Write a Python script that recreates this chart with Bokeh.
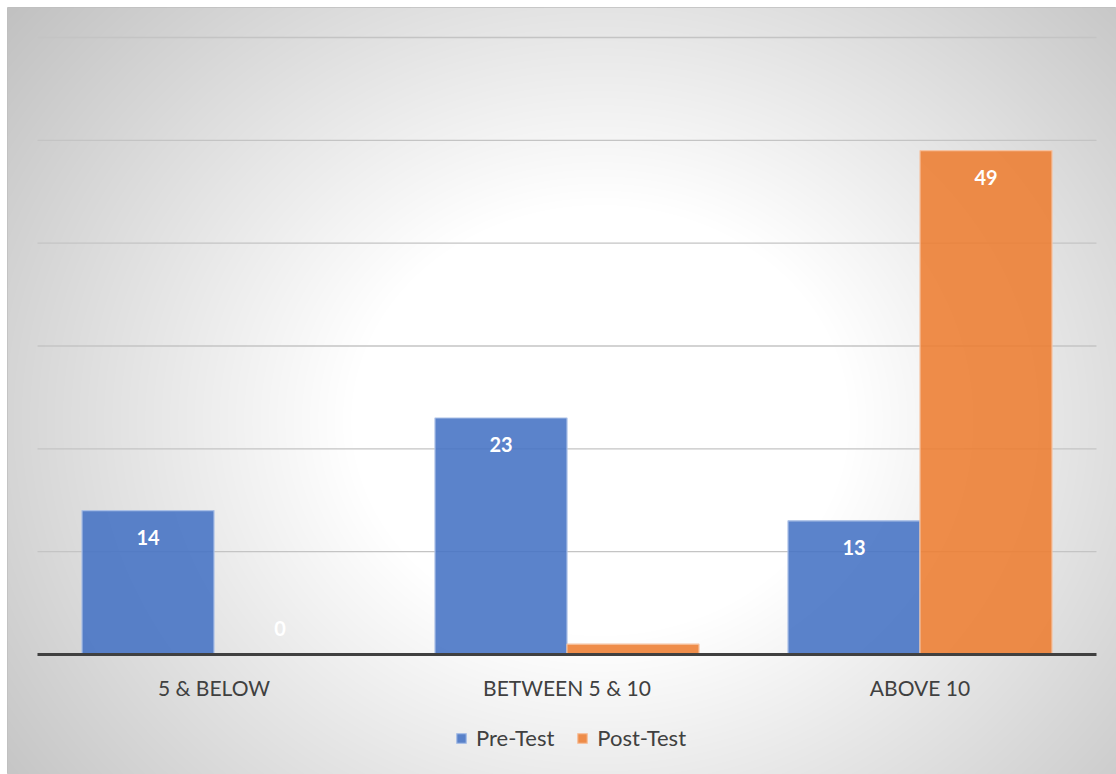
import numpy as np
from bokeh.plotting import figure
from bokeh.models import Range1d, LinearAxis, FixedTicker, Legend, LegendItem, ColumnDataSource
from bokeh.core.properties import value
from bokeh.embed import file_html
from bokeh.resources import INLINE

# ---- data ----
categories = ["5 & BELOW", "BETWEEN 5 & 10", "ABOVE 10"]
pre_test = [14, 23, 13]
post_test = [0, 1, 49]
series_names = ["Pre-Test", "Post-Test"]
grid_values = [10, 20, 30, 40, 50, 60]

# ---- geometry ----
W, H = 1116, 774
ML, MT = 7, 7
FW, FH = W - ML, H - MT
px_x = 353.0          # pixels per category
px_y = 10.283         # pixels per unit
x0_px, y0_px = 37, 654  # canvas px of (0, 0)
x_start = -(x0_px - ML) / px_x
x_end = len(categories) + (W - (x0_px + px_x * len(categories))) / px_x
y_end = (y0_px - MT) / px_y
y_start = -(H - y0_px) / px_y

p = figure(width=W, height=H, output_backend="svg", toolbar_location=None, tools="",
           x_range=Range1d(x_start, x_end), y_range=Range1d(y_start, y_end),
           x_axis_location=None, y_axis_location=None,
           min_border_left=ML, min_border_top=MT, min_border_right=0, min_border_bottom=0,
           border_fill_color="white", background_fill_color="#eeeeee")
p.outline_line_color = "#bfbfbf"
p.outline_line_width = 1
p.grid.visible = False

# ---- radial gradient background ----
jj, ii = np.meshgrid(np.arange(FW), np.arange(FH))
X = ML + jj + 0.5
Y = MT + ii + 0.5
d = np.sqrt(((X - 600) / 555.0) ** 2 + ((Y - 420) / 480.0) ** 2)
t = np.clip((d - 0.45) / 0.92, 0, 1)
g = (255 - 62 * t).astype(np.uint8)
g = g[::-1, :]
img = np.empty((FH, FW), dtype=np.uint32)
view = img.view(dtype=np.uint8).reshape((FH, FW, 4))
view[:, :, 0] = g
view[:, :, 1] = g
view[:, :, 2] = g
view[:, :, 3] = 255
p.image_rgba(image=[img], x=x_start, y=y_start, dw=x_end - x_start, dh=y_end - y_start)

# ---- gridlines ----
n = len(categories)
p.segment(x0=[0] * len(grid_values), x1=[n] * len(grid_values), y0=grid_values, y1=grid_values,
          line_color="#c4c4c4", line_width=1.3)

# ---- bars ----
bw = 132.0 / px_x
xc = np.arange(n) + 0.5
src = ColumnDataSource(dict(xpre=xc - bw / 2, xpost=xc + bw / 2, pre=pre_test, post=post_test))
r_pre = p.vbar(x="xpre", top="pre", width=bw, source=src, fill_color="#4472C4", fill_alpha=0.88,
               line_color="#a9bfe6", line_width=1.2)
r_post = p.vbar(x="xpost", top="post", width=bw, source=src, fill_color="#ED7D31", fill_alpha=0.88,
                line_color="#f6c2a0", line_width=1.2)

# ---- data labels ----
lab_x = list(xc - bw / 2) + list(xc + bw / 2)
lab_v = pre_test + post_test
lab_off = [27 if v >= 5 else -26 for v in lab_v]
lsrc = ColumnDataSource(dict(x=lab_x, y=lab_v, t=[str(v) for v in lab_v], off=lab_off))
p.text(x="x", y="y", text="t", y_offset="off", source=lsrc, text_color="white",
       text_font=value("Lato"), text_font_style="bold", text_font_size="20px",
       text_align="center", text_baseline="middle")

# ---- x axis (baseline) ----
ax = LinearAxis(fixed_location=0, bounds=(0, n))
ax.ticker = FixedTicker(ticks=list(xc))
ax.major_label_overrides = {float(x): c for x, c in zip(xc, categories)}
ax.axis_line_color = "#404040"
ax.axis_line_width = 3
ax.major_tick_line_color = None
ax.minor_tick_line_color = None
ax.major_label_text_font = "Lato"
ax.major_label_text_font_size = "21px"
ax.major_label_text_color = "#404040"
ax.major_label_standoff = 14
p.add_layout(ax, "below")

# ---- legend ----
legend = Legend(items=[LegendItem(label=series_names[0], renderers=[r_pre]),
                       LegendItem(label=series_names[1], renderers=[r_post])],
                orientation="horizontal", location=(448, 23))
legend.glyph_width = 12
legend.glyph_height = 12
legend.label_text_font = "Lato"
legend.label_text_font_size = "22px"
legend.label_text_color = "#404040"
legend.label_standoff = 9
legend.spacing = 22
legend.padding = 0
legend.margin = 0
legend.background_fill_alpha = 0
legend.border_line_color = None
p.add_layout(legend, "center")

open("out.html", "w").write(file_html(p, INLINE))
